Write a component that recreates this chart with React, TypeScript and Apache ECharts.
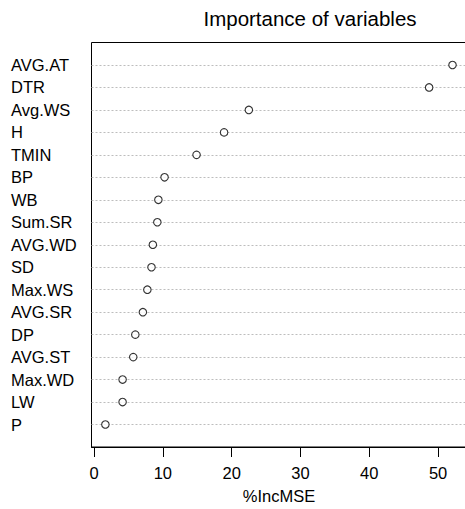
import React, { useEffect, useRef } from "react";
import * as echarts from "echarts";

const variableNames: string[] = [
  "AVG.AT", "DTR", "Avg.WS", "H", "TMIN", "BP", "WB", "Sum.SR", "AVG.WD",
  "SD", "Max.WS", "AVG.SR", "DP", "AVG.ST", "Max.WD", "LW", "P",
];
const incMSE: number[] = [
  52.1, 48.7, 22.5, 18.9, 14.9, 10.25, 9.35, 9.2, 8.55,
  8.35, 7.75, 7.1, 6.0, 5.7, 4.15, 4.15, 1.65,
];
const xTicks: number[] = [0, 10, 20, 30, 40, 50];
const titleText = "Importance of variables";
const xName = "%IncMSE";

const FONT = "'Liberation Sans', Arial, Helvetica, sans-serif";

export default function App() {
  const ref = useRef<HTMLDivElement>(null);
  useEffect(() => {
    if (!ref.current) return;
    document.body.style.overflow = "hidden";
    const chart = echarts.init(ref.current, null, { renderer: "svg" });
    const cats = ["", ...variableNames, " "];
    const lastIdx = cats.length - 1;
    const lo = Math.min(...incMSE);
    const hi = Math.max(...incMSE);
    const pad = (hi - lo) * 0.04;
    chart.setOption({
      animation: false,
      backgroundColor: "#fff",
      textStyle: { fontFamily: FONT },
      grid: {
        left: 91.5,
        top: 42.5,
        width: 374.9,
        height: 404.5,
        show: true,
        borderColor: "#000",
        borderWidth: 1,
        backgroundColor: "transparent",
        containLabel: false,
      },
      graphic: [
        {
          type: "text",
          x: 310,
          y: 8,
          style: {
            text: titleText,
            fontSize: 20.5,
            fontFamily: FONT,
            fill: "#000",
            align: "center",
            verticalAlign: "top",
          },
        },
      ],
      xAxis: {
        type: "value",
        min: lo - pad,
        max: hi + pad,
        axisLine: { show: true, lineStyle: { color: "#000", width: 1 } },
        axisTick: {
          show: true,
          length: 10,
          customValues: xTicks,
          lineStyle: { color: "#000", width: 1 },
        },
        axisLabel: {
          customValues: xTicks,
          fontSize: 16.5,
          color: "#000",
          margin: 17,
          fontFamily: FONT,
        },
        splitLine: { show: false },
        name: xName,
        nameLocation: "middle",
        nameGap: 40,
        nameTextStyle: { fontSize: 16.5, color: "#000", fontFamily: FONT },
      },
      yAxis: {
        type: "category",
        data: cats,
        inverse: true,
        boundaryGap: false,
        axisLine: { show: false },
        axisTick: { show: false },
        axisLabel: {
          interval: 0,
          align: "left",
          margin: 80.5,
          fontSize: 16.5,
          color: "#000",
          fontFamily: FONT,
        },
        splitLine: {
          show: true,
          interval: (idx: number) => idx !== 0 && idx !== lastIdx,
          lineStyle: { color: "#bdbdbd", type: [2, 2], width: 1 },
        },
      },
      series: [
        {
          type: "scatter",
          symbol: "circle",
          symbolSize: 7.5,
          itemStyle: { color: "#fff", borderColor: "#000", borderWidth: 1.1 },
          data: incMSE.map((v, i) => [v, i + 1]),
          z: 5,
        },
      ],
    });
    return () => chart.dispose();
  }, []);
  return (
    <div
      ref={ref}
      style={{ position: "fixed", left: 0, top: 0, width: 480, height: 509 }}
    />
  );
}
